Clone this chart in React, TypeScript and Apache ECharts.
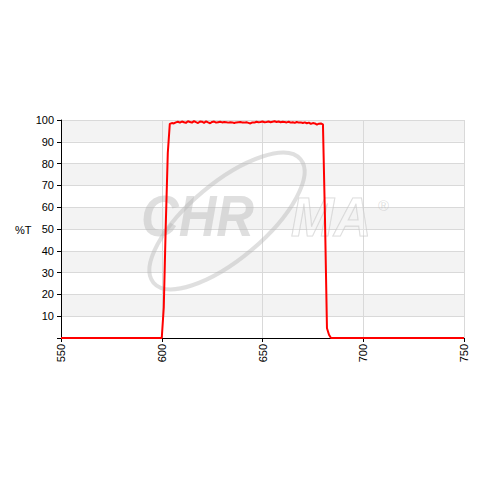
import React, { useEffect, useRef } from "react";
import * as echarts from "echarts";

const wavelengths = [
  550, 600, 601, 602, 603, 604,
  605, 606, 607, 608, 609, 610, 611, 612, 613, 614, 615, 616, 617, 618, 619,
  620, 621, 622, 623, 624, 625, 626, 627, 628, 629, 630, 631, 632, 633, 634,
  635, 636, 637, 638, 639, 640, 641, 642, 643, 644, 645, 646, 647, 648, 649,
  650, 651, 652, 653, 654, 655, 656, 657, 658, 659, 660, 661, 662, 663, 664,
  665, 666, 667, 668, 669, 670, 671, 672, 673, 674, 675, 676, 677, 678, 679,
  680, 681, 682, 683, 684, 750,
];
const transmission = [
  0, 0, 14, 52, 85, 98.2,
  98.6, 98.4, 98.9, 99.2, 98.8, 99.3, 99.0, 98.7, 99.4, 99.1, 98.8, 99.5, 99.0, 98.6, 99.3,
  99.2, 98.7, 99.4, 98.9, 98.5, 99.1, 99.3, 98.8, 99.0, 99.2, 98.9, 99.1, 99.0, 98.8, 99.0,
  98.9, 98.6, 98.9, 99.0, 99.1, 98.9, 98.8, 99.0, 98.7, 98.4, 98.9, 98.8, 99.2, 99.0, 99.1,
  99.3, 99.0, 99.1, 99.3, 99.0, 99.2, 99.4, 99.1, 99.3, 99.0, 99.2, 99.1, 98.9, 99.2, 98.8,
  99.0, 98.7, 99.1, 98.8, 98.9, 98.6, 98.9, 98.5, 98.8, 98.2, 98.6, 98.4, 97.9, 98.3, 98.4,
  98.0, 55, 4.5, 1.5, 0, 0,
];
const xTicks = [550, 600, 650, 700, 750];
const yTicks = [0, 10, 20, 30, 40, 50, 60, 70, 80, 90, 100];
const yAxisTitle = "%T";

export default function App() {
  const ref = useRef<HTMLDivElement>(null);
  useEffect(() => {
    if (!ref.current) return;
    const chart = echarts.init(ref.current, null, { renderer: "svg" });
    const font = "Liberation Sans";
    const wm = "rgba(185,185,185,0.45)";
    chart.setOption({
      animation: false,
      backgroundColor: "#ffffff",
      grid: { left: 61, right: 16, top: 120, bottom: 142, containLabel: false },
      xAxis: {
        type: "value",
        min: xTicks[0],
        max: xTicks[xTicks.length - 1],
        interval: 50,
        axisLine: { show: true, lineStyle: { color: "#000", width: 1 } },
        axisTick: { show: true, length: 4, lineStyle: { color: "#000" } },
        axisLabel: {
          rotate: 90,
          margin: 6,
          fontFamily: font,
          fontSize: 11,
          color: "#000",
        },
        splitLine: { show: true, lineStyle: { color: "#d9d9d9", width: 1 } },
      },
      yAxis: {
        type: "value",
        min: yTicks[0],
        max: yTicks[yTicks.length - 1],
        interval: 10,
        axisLine: { show: true, lineStyle: { color: "#000", width: 1 } },
        axisTick: { show: true, length: 4, lineStyle: { color: "#000" } },
        axisLabel: {
          margin: 7,
          fontFamily: font,
          fontSize: 11,
          color: "#000",
          formatter: (v: number) => (v === 0 ? "" : String(v)),
        },
        splitLine: { show: true, lineStyle: { color: "#d9d9d9", width: 1 } },
        splitArea: { show: true, areaStyle: { color: ["#ffffff", "#f3f3f3"] } },
      },
      graphic: [
        {
          type: "text",
          left: 15,
          top: 224,
          z: 10,
          style: { text: yAxisTitle, fontFamily: font, fontSize: 11, fill: "#000" },
        },
        {
          type: "ellipse",
          x: 227,
          y: 221,
          rotation: (40 * Math.PI) / 180,
          z: 1,
          silent: true,
          shape: { cx: 0, cy: 0, rx: 96, ry: 38 },
          style: { fill: "none", stroke: wm, lineWidth: 4 },
        },
        {
          type: "text",
          x: 141,
          y: 216,
          z: 1,
          scaleX: 0.9,
          silent: true,
          style: {
            text: "CHR",
            fontFamily: font,
            fontSize: 58,
            fontWeight: "bold",
            fontStyle: "italic",
            fill: wm,
            verticalAlign: "middle",
            align: "left",
          },
        },
        {
          type: "text",
          x: 291,
          y: 216,
          z: 1,
          scaleX: 0.92,
          silent: true,
          style: {
            text: "MA",
            fontFamily: font,
            fontSize: 56,
            fontWeight: "bold",
            fontStyle: "italic",
            fill: "rgba(255,255,255,0.2)",
            stroke: "rgba(195,195,195,0.6)",
            lineWidth: 1.2,
            verticalAlign: "middle",
            align: "left",
          },
        },
        {
          type: "text",
          x: 378,
          y: 198,
          z: 1,
          silent: true,
          style: { text: "®", fontFamily: font, fontSize: 15, fill: wm },
        },
      ],
      series: [
        {
          type: "line",
          data: wavelengths.map((w, i) => [w, transmission[i]]),
          showSymbol: false,
          symbol: "none",
          z: 5,
          lineStyle: { color: "#ff0000", width: 2 },
        },
      ],
    });
    return () => chart.dispose();
  }, []);
  return (
    <div
      ref={ref}
      style={{ position: "fixed", left: 0, top: 0, width: 480, height: 480 }}
    />
  );
}
